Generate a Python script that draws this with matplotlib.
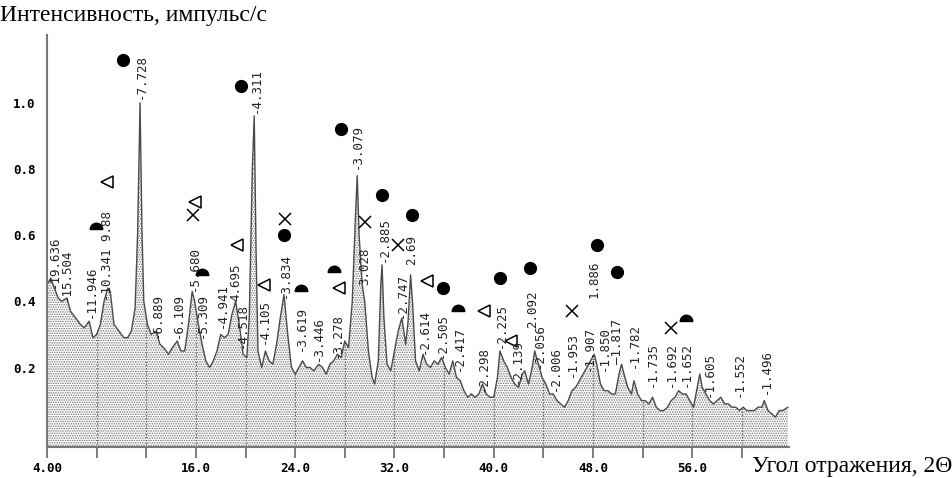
import numpy as np
import matplotlib
matplotlib.use('Agg')
import matplotlib.pyplot as plt
from matplotlib.path import Path

# diffractogram trace, 2theta (deg) vs intensity
two_theta = [4.0, 4.3, 4.6, 4.9, 5.2, 5.6, 5.9, 6.3, 6.7, 7.0, 7.4, 7.7, 8.0, 8.3, 8.6, 8.9,
             9.1, 9.4, 9.8, 10.2, 10.5, 10.8, 11.1, 11.3, 11.5, 11.65, 11.8, 12.1, 12.4, 12.8,
             13.1, 13.4, 13.8, 14.1, 14.5, 14.8, 15.1, 15.4, 15.7, 15.9, 16.2, 16.5, 16.8,
             17.1, 17.4, 17.7, 18.0, 18.3, 18.6, 18.9, 19.2, 19.5, 19.8, 20.1, 20.3, 20.55,
             20.7, 20.85, 21.0, 21.3, 21.6, 21.9, 22.2, 22.5, 22.8, 23.1, 23.4, 23.7, 24.0,
             24.3, 24.6, 24.9, 25.2, 25.5, 25.9, 26.2, 26.5, 26.8, 27.1, 27.4, 27.7, 28.0,
             28.3, 28.6, 28.85, 29.0, 29.15, 29.4, 29.6, 29.9, 30.2, 30.4, 30.7, 30.9, 31.0,
             31.15, 31.4, 31.7, 32.0, 32.3, 32.6, 32.9, 33.1, 33.3, 33.45, 33.7, 34.0, 34.3,
             34.6, 34.9, 35.2, 35.5, 35.8, 36.1, 36.4, 36.7, 37.0, 37.3, 37.6, 37.9, 38.2,
             38.5, 38.8, 39.1, 39.4, 39.7, 40.0, 40.3, 40.5, 40.8, 41.1, 41.4, 41.7, 42.0,
             42.3, 42.5, 42.8, 43.1, 43.3, 43.6, 43.9, 44.2, 44.5, 44.8, 45.1, 45.4, 45.7,
             46.0, 46.3, 46.6, 46.9, 47.2, 47.5, 47.8, 48.1, 48.3, 48.6, 48.9, 49.2, 49.5,
             49.8, 50.1, 50.3, 50.5, 50.8, 51.1, 51.3, 51.6, 51.9, 52.2, 52.5, 52.8, 53.1,
             53.4, 53.7, 54.0, 54.3, 54.6, 54.9, 55.2, 55.5, 55.8, 56.1, 56.4, 56.6, 56.8,
             57.1, 57.4, 57.7, 58.0, 58.3, 58.6, 58.9, 59.2, 59.5, 59.8, 60.1, 60.4, 60.7,
             61.0, 61.3, 61.6, 61.8, 62.1, 62.4, 62.7, 63.0, 63.3, 63.7]
intensity = [0.45, 0.47, 0.44, 0.41, 0.40, 0.41, 0.37, 0.35, 0.33, 0.32, 0.34, 0.29, 0.30, 0.33,
             0.40, 0.44, 0.43, 0.33, 0.31, 0.29, 0.29, 0.31, 0.38, 0.60, 1.00, 0.62, 0.40, 0.33,
             0.30, 0.31, 0.27, 0.26, 0.24, 0.26, 0.28, 0.25, 0.25, 0.33, 0.43, 0.40, 0.33, 0.27,
             0.22, 0.20, 0.22, 0.25, 0.30, 0.29, 0.30, 0.36, 0.40, 0.33, 0.24, 0.23, 0.35, 0.80,
             0.96, 0.55, 0.25, 0.20, 0.25, 0.22, 0.21, 0.27, 0.35, 0.42, 0.30, 0.20, 0.18, 0.20,
             0.22, 0.20, 0.20, 0.19, 0.21, 0.20, 0.18, 0.21, 0.22, 0.24, 0.23, 0.28, 0.26, 0.40,
             0.65, 0.78, 0.60, 0.45, 0.40, 0.25, 0.17, 0.15, 0.22, 0.45, 0.51, 0.35, 0.21, 0.19,
             0.25, 0.31, 0.35, 0.27, 0.34, 0.48, 0.40, 0.22, 0.19, 0.24, 0.21, 0.20, 0.22, 0.21,
             0.23, 0.20, 0.18, 0.22, 0.17, 0.16, 0.13, 0.11, 0.12, 0.11, 0.12, 0.15, 0.12, 0.11,
             0.11, 0.17, 0.25, 0.22, 0.20, 0.17, 0.15, 0.14, 0.18, 0.19, 0.15, 0.20, 0.25, 0.21,
             0.17, 0.15, 0.12, 0.12, 0.10, 0.09, 0.08, 0.10, 0.13, 0.14, 0.16, 0.18, 0.20, 0.22,
             0.24, 0.21, 0.15, 0.13, 0.13, 0.12, 0.12, 0.18, 0.21, 0.18, 0.14, 0.12, 0.16, 0.12,
             0.10, 0.10, 0.09, 0.11, 0.08, 0.07, 0.07, 0.08, 0.10, 0.11, 0.13, 0.12, 0.12, 0.10,
             0.08, 0.14, 0.18, 0.14, 0.12, 0.10, 0.09, 0.10, 0.11, 0.09, 0.09, 0.08, 0.08, 0.07,
             0.08, 0.07, 0.07, 0.07, 0.08, 0.08, 0.10, 0.07, 0.06, 0.05, 0.07, 0.07, 0.08]

# d-spacing labels: text, position (2theta), bottom of label (intensity)
peak_text = ['-19.636', '-15.504', '-11.946', '-10.341 9.88', '-7.728', '-6.889', '-6.109',
             '-5.680', '-5.309', '-4.941', '4.695', '-4.518', '-4.311', '-4.105', '-3.834',
             '-3.619', '-3.446', '-3.278', '-3.079', '3.028', '-2.885', '-2.747', '2.69',
             '-2.614', '-2.505', '-2.417', '-2.298', '-2.225', '-2.139', '2.092', '-2.056',
             '-2.006', '-1.953', '-1.907', '1.886', '-1.850', '\u20141.817', '-1.782', '-1.735',
             '-1.692', '-1.652', '-1.605', '-1.552', '-1.496']
peak_x = [4.6, 5.6, 7.55, 8.85, 11.6, 12.9, 14.6, 15.85, 16.5, 18.1, 19.25, 19.75, 20.85, 21.5,
          23.2, 24.5, 25.9, 27.4, 29.0, 29.6, 31.2, 32.6, 33.4, 34.4, 35.9, 37.2, 39.2, 40.6,
          41.9, 43.1, 43.7, 45.0, 46.3, 47.7, 48.1, 48.95, 50.0, 51.3, 52.8, 54.3, 55.5, 57.4,
          59.8, 62.0]
peak_y = [0.44, 0.40, 0.35, 0.40, 1.01, 0.29, 0.29, 0.43, 0.29, 0.32, 0.40, 0.26, 0.97, 0.27,
          0.41, 0.25, 0.22, 0.23, 0.80, 0.45, 0.52, 0.35, 0.51, 0.24, 0.23, 0.19, 0.13, 0.26,
          0.15, 0.32, 0.20, 0.13, 0.17, 0.19, 0.41, 0.19, 0.21, 0.20, 0.14, 0.14, 0.14, 0.11,
          0.11, 0.12]

# phase markers
circle_x = [10.1, 19.6, 23.1, 27.7, 31.0, 33.4, 35.9, 40.5, 42.9, 48.3, 49.9]
circle_y = [1.13, 1.05, 0.60, 0.92, 0.72, 0.66, 0.44, 0.47, 0.50, 0.57, 0.49]
tri_x = [8.85, 15.95, 19.3, 21.5, 27.5, 34.6, 39.2, 41.4]
tri_y = [0.76, 0.70, 0.57, 0.45, 0.44, 0.46, 0.37, 0.28]
cross_x = [15.75, 23.2, 29.6, 32.3, 46.3, 54.3]
cross_y = [0.66, 0.65, 0.64, 0.57, 0.37, 0.32]
dome_x = [7.95, 16.5, 24.5, 27.1, 37.1, 55.5]
dome_y = [0.62, 0.48, 0.43, 0.49, 0.37, 0.34]

xticks = [4, 8, 12, 16, 20, 24, 28, 32, 36, 40, 44, 48, 52, 56, 60]
xticklabels = ['4.00', '', '', '16.0', '', '24.0', '', '32.0', '', '40.0', '', '48.0', '', '56.0', '']
yticks = [0.2, 0.4, 0.6, 0.8, 1.0]

ymin, ymax = -0.04, 1.205

plt.rcParams['hatch.color'] = '#707070'
plt.rcParams['hatch.linewidth'] = 0.7

fig = plt.figure(figsize=(9.53, 4.78), dpi=100)
ax = fig.add_axes([0.0493, 0.065, 0.7787, 0.862])

fill = ax.fill_between(two_theta, intensity, ymin, facecolor='white', edgecolor='none',
                       hatch='.......', linewidth=0)
ax.plot(two_theta, intensity, color='#4a4a4a', lw=1.0)

# dotted verticals only inside the filled area
vl = ax.vlines(xticks[1:], ymin, ymax, colors='#555555', linestyles=(0, (1, 1.5)), lw=0.9)
vl.set_clip_path(fill.get_paths()[0], ax.transData)

for t, px, py in zip(peak_text, peak_x, peak_y):
    ax.text(px, py, t, rotation=90, ha='center', va='bottom', fontsize=9,
            family='DejaVu Sans Mono', color='#222222')

ax.plot(circle_x, circle_y, 'o', ms=8.5, color='black', ls='none')
ax.plot(tri_x, tri_y, '<', ms=8.5, mfc='white', mec='black', mew=1.1, ls='none')
ax.plot(cross_x, cross_y, 'x', ms=8.5, color='black', mew=1.1, ls='none')
ax.plot(dome_x, dome_y, marker=Path.wedge(0, 180), ms=9, color='black', ls='none')

ax.set_xlim(4, 63.8)
ax.set_ylim(ymin, ymax)
ax.set_xticks(xticks)
ax.set_xticklabels(xticklabels, family='DejaVu Sans Mono', fontweight='bold', fontsize=9)
ax.set_yticks(yticks)
ax.set_yticklabels(['%.1f' % v for v in yticks], family='DejaVu Sans Mono', fontweight='bold', fontsize=9)
ax.tick_params(axis='x', direction='out', length=8, width=1.2, color='#666666', pad=3)
ax.tick_params(axis='y', length=0, pad=8)

for s in ['top', 'right']:
    ax.spines[s].set_visible(False)
for s in ['left', 'bottom']:
    ax.spines[s].set_color('#777777')
    ax.spines[s].set_linewidth(1.5)

fig.text(0.0, 0.99, 'Интенсивность, импульс/с', family='Liberation Serif', fontsize=17,
         ha='left', va='top')
fig.text(0.999, 0.003, 'Угол отражения, 2\u0398', family='Liberation Serif', fontsize=17,
         ha='right', va='bottom')

fig.savefig('out.png', dpi=100)
